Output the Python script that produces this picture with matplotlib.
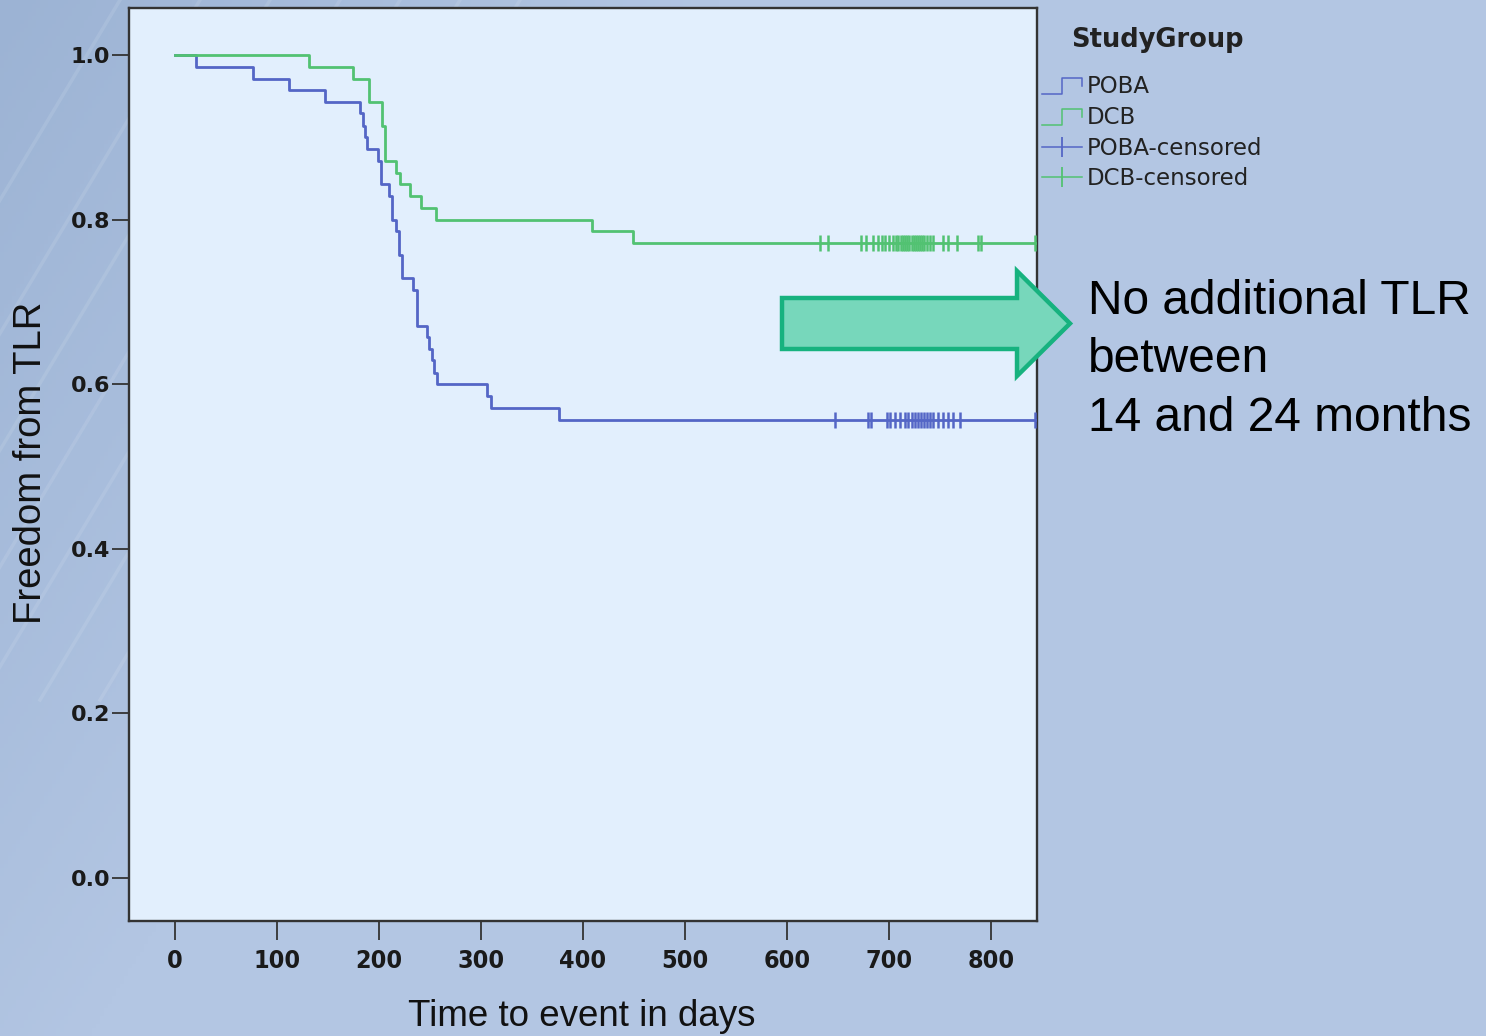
import matplotlib
matplotlib.use('Agg')
import matplotlib.pyplot as plt
import numpy as np
from matplotlib.lines import Line2D
from matplotlib.legend_handler import HandlerBase
from matplotlib.patches import FancyArrow
from matplotlib.colors import LinearSegmentedColormap

# ---------------- data ----------------
poba_times = [0, 21, 76, 112, 147, 181, 184, 186, 188, 199, 202, 210, 213, 217,
              220, 223, 233, 237, 247, 249, 252, 254, 257, 306, 310, 376, 843]
poba_surv = [1.0, 0.986, 0.971, 0.957, 0.943, 0.929, 0.914, 0.900, 0.886, 0.871,
             0.843, 0.829, 0.800, 0.786, 0.757, 0.729, 0.714, 0.671, 0.657, 0.643,
             0.629, 0.614, 0.600, 0.586, 0.571, 0.557, 0.557]

dcb_times = [0, 131, 174, 190, 203, 206, 217, 221, 230, 241, 256, 409, 449, 843]
dcb_surv = [1.0, 0.986, 0.971, 0.943, 0.914, 0.871, 0.857, 0.843, 0.829, 0.814,
            0.800, 0.786, 0.771, 0.771]

poba_cens = [647, 679, 682, 698, 701, 706, 711, 716, 719, 722, 725, 728, 731, 734,
             737, 740, 743, 748, 753, 758, 763, 770, 843]
dcb_cens = [632, 640, 672, 677, 684, 689, 693, 696, 700, 704, 707, 709, 712, 714,
            716, 718, 720, 722, 724, 726, 728, 730, 732, 734, 737, 740, 743, 753,
            758, 767, 787, 790, 843]

x_ticks = [0, 100, 200, 300, 400, 500, 600, 700, 800]
y_ticks = [0.0, 0.2, 0.4, 0.6, 0.8, 1.0]
group_labels = ['POBA', 'DCB', 'POBA-censored', 'DCB-censored']
legend_title = 'StudyGroup'
note_text = "No additional TLR\nbetween\n14 and 24 months"

# ---------------- style ----------------
BLUE = '#5466c6'
GREEN = '#52c272'
BG = '#b3c6e3'
PANEL = '#e2effd'
W, H = 1486, 1036

fig = plt.figure(figsize=(W / 100, H / 100), dpi=100)
fig.patch.set_facecolor(BG)

# decorative background gradient (darker top-left)
bg = fig.add_axes([0, 0, 1, 1], zorder=-10)
bg.axis('off')
yy, xx = np.mgrid[0:H:4, 0:W:4]
d = np.clip(1 - (xx * 0.9 + yy * 0.55) / 650.0, 0, 1)
cmap = LinearSegmentedColormap.from_list('bgc', [BG, '#9cb3d4'])
bg.imshow(d, cmap=cmap, extent=[0, W, H, 0], aspect='auto', vmin=0, vmax=1)
for x0 in [-300, -220, -150, -80, -20, 40, 100]:
    bg.plot([x0, x0 + 420], [700, 0], color='white', alpha=0.10, lw=2.5)
bg.set_xlim(0, W)
bg.set_ylim(H, 0)

# main axes
ax = fig.add_axes([129 / W, 1 - 921 / H, (1037 - 129) / W, (921 - 8) / H])
ax.set_facecolor(PANEL)


def level_at(times, surv, t):
    i = np.searchsorted(times, t, side='right') - 1
    return surv[i]


ax.step(poba_times, poba_surv, where='post', color=BLUE, lw=2.0, zorder=3)
ax.step(dcb_times, dcb_surv, where='post', color=GREEN, lw=2.0, zorder=3)
ax.plot(poba_cens, [level_at(poba_times, poba_surv, t) for t in poba_cens],
        linestyle='none', marker='|', markersize=12, mew=1.8, color=BLUE, zorder=4)
ax.plot(dcb_cens, [level_at(dcb_times, dcb_surv, t) for t in dcb_cens],
        linestyle='none', marker='|', markersize=12, mew=1.8, color=GREEN, zorder=4)

ax.set_xlim(-45.1, 845)
ax.set_ylim(-0.0523, 1.0571)
ax.set_xticks(x_ticks)
ax.set_yticks(y_ticks)
ax.set_xticklabels([str(v) for v in x_ticks], fontsize=18, fontweight='bold',
                   family='DejaVu Sans', fontstretch='condensed', color='#1a1a1a')
ax.set_yticklabels([f'{v:.1f}' for v in y_ticks], fontsize=16, fontweight='bold',
                   family='DejaVu Sans', color='#1a1a1a')
ax.tick_params(axis='y', direction='out', length=12.5, width=1.3, pad=1, colors='#333333')
ax.tick_params(axis='x', direction='out', length=14, width=1.3, pad=6, colors='#333333')
for lab in ax.get_xticklabels() + ax.get_yticklabels():
    lab.set_color('#1a1a1a')
for s in ax.spines.values():
    s.set_color('#333333')
    s.set_linewidth(1.7)

ax.set_xlabel('Time to event in days', fontsize=26.5, family='Liberation Sans',
              color='#111111')
ax.set_ylabel('Freedom from TLR', fontsize=27.5, family='Liberation Sans',
              color='#111111')
ax.xaxis.set_label_coords(0.499, -0.085)
ax.yaxis.set_label_coords(-0.088, 0.502)


# legend
class StepHandler(HandlerBase):
    def create_artists(self, legend, orig_handle, xdescent, ydescent, width,
                       height, fontsize, trans):
        x0, y0 = -xdescent, -ydescent
        xs = [x0, x0 + 0.5 * width, x0 + 0.5 * width, x0 + width, x0 + width]
        ys = [y0 - 0.05 * height, y0 - 0.05 * height, y0 + 0.95 * height,
              y0 + 0.95 * height, y0 + 0.45 * height]
        ln = Line2D(xs, ys, color=orig_handle.get_color(), lw=1.1)
        ln.set_transform(trans)
        return [ln]


h1 = Line2D([], [], color=BLUE, lw=1.1)
h2 = Line2D([], [], color=GREEN, lw=1.1)
h3 = Line2D([], [], color=BLUE, lw=1.1, marker='|', markersize=14, mew=1.3)
h4 = Line2D([], [], color=GREEN, lw=1.1, marker='|', markersize=14, mew=1.3)
leg = fig.legend([h1, h2, h3, h4], group_labels,
                 handler_map={h1: StepHandler(), h2: StepHandler()},
                 loc='upper left', bbox_to_anchor=(1042 / W, 1 - 75 / H),
                 bbox_transform=fig.transFigure, frameon=False,
                 prop={'size': 16.5, 'family': 'DejaVu Sans'},
                 handlelength=1.75, handletextpad=0.22, labelspacing=0.34,
                 borderpad=0, borderaxespad=0, numpoints=1)
for t in leg.get_texts():
    t.set_color('#222222')
fig.text(1157 / W, 1 - 40 / H, legend_title, fontsize=18.5, fontweight='bold',
         family='DejaVu Sans', color='#222222', ha='center', va='center')

# annotation arrow (in pixel-like inch coordinates)
arr = FancyArrow(782 / 100, (H - 323.5) / 100, (1070 - 782) / 100, 0,
                 width=0.51, head_width=1.05, head_length=0.53,
                 length_includes_head=True, facecolor='#77d7bb',
                 edgecolor='#17b27f', linewidth=3.2,
                 transform=fig.dpi_scale_trans, zorder=5)
fig.add_artist(arr)

fig.text(1088 / W, 1 - 279 / H, note_text, fontsize=34.5, family='Liberation Sans',
         color='black', ha='left', va='top', linespacing=1.38)

fig.savefig('out.png', dpi=100, facecolor=fig.get_facecolor())
